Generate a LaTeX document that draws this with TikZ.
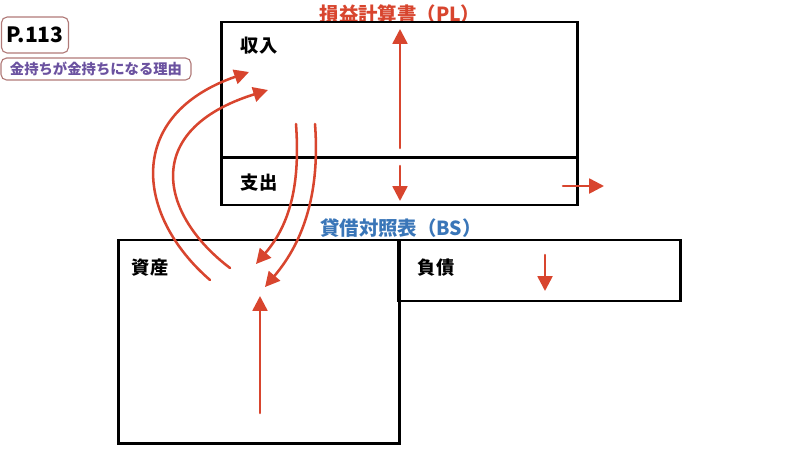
\documentclass[tikz,border=0pt]{standalone}
\usepackage{fontspec}
\newfontfamily\jpfont{Noto Sans CJK JP}[BoldFont={Noto Sans CJK JP Black}]
\usetikzlibrary{arrows.meta}
\definecolor{plred}{HTML}{D8452E}
\definecolor{bsblue}{HTML}{3A76B8}
\definecolor{tagpurple}{HTML}{6B52A0}
\definecolor{tagborder}{HTML}{B07A78}

\begin{document}
\begin{tikzpicture}[
    x=0.025cm, y=-0.025cm,
    sheet/.style={
        draw, rectangle, line width=2.1pt, inner sep=0pt
    },
    tag/.style={
        draw=tagborder, rectangle, rounded corners=4pt, line width=0.8pt,
        inner sep=0pt, font=\jpfont\bfseries
    },
    itemlabel/.style={font=\jpfont\bfseries\fontsize{13}{13}\selectfont},
    title/.style={font=\jpfont\bfseries\fontsize{13.8}{13.8}\selectfont},
    flow/.style={-{Triangle[length=10.5pt,width=10.5pt]}, line width=1.8pt, plred, line cap=round}
]
    \useasboundingbox (0,0) rectangle (800,450);

    % Page tag
    \node[tag, minimum width=1.675cm, minimum height=0.9cm,
          font=\jpfont\bfseries\fontsize{15}{15}\selectfont] (page) at (35,35) {P.113};
    \node[tag, minimum width=4.75cm, minimum height=0.55cm, text=tagpurple,
          font=\jpfont\bfseries\fontsize{10.2}{10.2}\selectfont] (reason) at (96,69) {金持ちが金持ちになる理由};

    % PL
    \node[title, text=plred] (pltitle) at (400,14) {損益計算書（PL）};
    \node[sheet, minimum width=8.875cm, minimum height=3.375cm] (income) at (399.5,89.5) {};
    \node[sheet, minimum width=8.875cm, minimum height=1.2cm] (expense) at (399.5,181) {};
    \node[itemlabel] (inclabel) at (259,46) {収入};
    \node[itemlabel] (explabel) at (259,183) {支出};

    % BS
    \node[title, text=bsblue] (bstitle) at (401,228) {貸借対照表（BS）};
    \node[sheet, minimum width=7cm, minimum height=5.075cm] (asset) at (259,341.5) {};
    \node[sheet, minimum width=7.025cm, minimum height=1.525cm] (liability) at (539.5,270.5) {};
    \node[itemlabel] (astlabel) at (150,268) {資産};
    \node[itemlabel] (liblabel) at (436,268) {負債};

    % arrow ends
    \coordinate (incup0) at (400,148);   \coordinate (incup1) at (400,29);
    \coordinate (expdn0) at (400,166);   \coordinate (expdn1) at (400,201);
    \coordinate (out0) at (563,186);     \coordinate (out1) at (604,186);
    \coordinate (libdn0) at (545,255);   \coordinate (libdn1) at (545,291);
    \coordinate (astup0) at (260,413);   \coordinate (astup1) at (260,296);
    \coordinate (back0) at (210,280);    \coordinate (back1) at (249,72);
    \coordinate (backb0) at (230,268);   \coordinate (backb1) at (268,90);
    \coordinate (into0) at (296,124);    \coordinate (into1) at (256,264);
    \coordinate (intob0) at (315,124);   \coordinate (intob1) at (265,287);

    % flows
    \draw[flow] (incup0) -- (incup1);
    \draw[flow] (expdn0) -- (expdn1);
    \draw[flow] (out0) -- (out1);
    \draw[flow] (libdn0) -- (libdn1);
    \draw[flow] (astup0) -- (astup1);
    \draw[flow] (back0) .. controls (135,215) and (125,115) .. (back1);
    \draw[flow] (backb0) .. controls (160,215) and (140,130) .. (backb1);
    \draw[flow] (into0) .. controls (300,180) and (292,222) .. (into1);
    \draw[flow] (intob0) .. controls (320,190) and (305,240) .. (intob1);

\end{tikzpicture}
\end{document}
